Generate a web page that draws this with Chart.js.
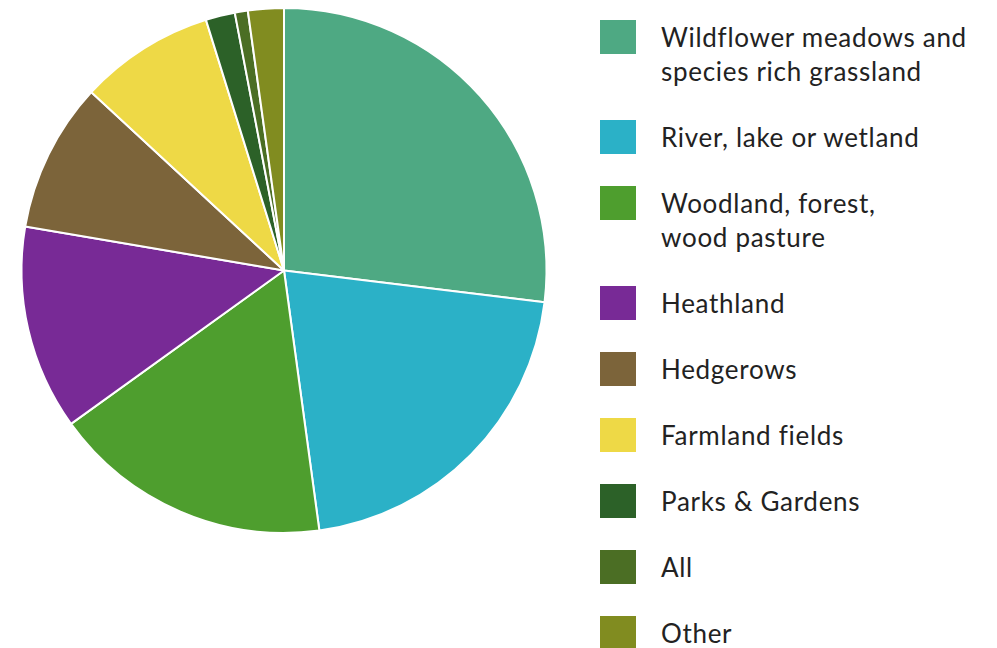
<!DOCTYPE html>
<html lang="en">
<head>
  <meta charset="UTF-8" />
  <title>Habitat types</title>
  <script src="https://cdn.jsdelivr.net/npm/chart.js"></script>
  <style>
    html, body {
      margin: 0;
      padding: 0;
      background: #fff;
    }
    .wrap {
      position: relative;
      width: 997px;
      height: 648px;
      overflow: hidden;
    }
    .pie-box {
      position: absolute;
      left: 0;
      top: 7px;
      width: 568px;
      height: 527px;
    }
    /* legend on the right, built from the same arrays */
    #legend {
      position: absolute;
      left: 600px;
      top: 20px;
      display: flex;
      flex-direction: column;
      gap: 32px;
      font-family: "Lato", "Noto Sans", sans-serif;
      font-size: 26px;
      letter-spacing: 0.7px;
      line-height: 34px;
      color: #222;
    }
    .item {
      display: flex;
      align-items: flex-start;
    }
    .swatch {
      width: 36px;
      height: 34px;
      flex: none;
      margin-right: 25px;
    }
  </style>
</head>
<body>
  <div class="wrap">
    <div class="pie-box"><canvas id="pieChart"></canvas></div>
    <div id="legend"></div>
  </div>

  <script>
    // habitat categories, share of responses (%)
    const labels = [
      ['Wildflower meadows and', 'species rich grassland'],
      ['River, lake or wetland'],
      ['Woodland, forest,', 'wood pasture'],
      ['Heathland'],
      ['Hedgerows'],
      ['Farmland fields'],
      ['Parks & Gardens'],
      ['All'],
      ['Other']
    ];
    const shares = [26.9, 20.9, 17.2, 12.6, 9.2, 8.3, 1.8, 0.8, 2.2];
    const colours = [
      '#4ea983', '#2bb1c7', '#4e9e2e', '#782a96', '#7c643a',
      '#eed946', '#2c6128', '#4b6e24', '#818c20'
    ];

    new Chart(document.getElementById('pieChart').getContext('2d'), {
      type: 'pie',
      data: {
        labels: labels.map(l => l.join(' ')),
        datasets: [{
          data: shares,
          backgroundColor: colours,
          borderColor: '#fff',
          borderWidth: 2
        }]
      },
      options: {
        responsive: true,
        maintainAspectRatio: false,
        animation: false,
        layout: { padding: 0 },
        plugins: {
          legend: { display: false },
          tooltip: { enabled: false }
        }
      }
    });

    const legend = document.getElementById('legend');
    labels.forEach((lines, i) => {
      const item = document.createElement('div');
      item.className = 'item';
      const sw = document.createElement('div');
      sw.className = 'swatch';
      sw.style.background = colours[i];
      const txt = document.createElement('div');
      txt.innerHTML = lines.map(s => s.replace(/&/g, '&amp;')).join('<br>');
      item.appendChild(sw);
      item.appendChild(txt);
      legend.appendChild(item);
    });
  </script>
</body>
</html>
